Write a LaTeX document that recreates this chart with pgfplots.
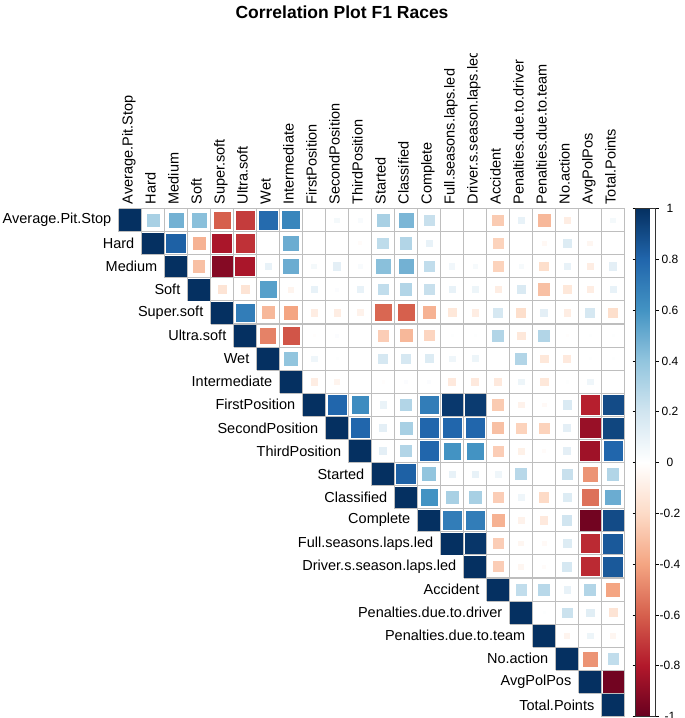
\documentclass[border=0pt]{standalone}
\usepackage{fontspec}
\setmainfont{Liberation Sans}
\usepackage{pgfplots}
\usepackage{pgfplotstable}
\pgfplotsset{compat=1.18}
\definecolor{gridc}{RGB}{190,190,190}

% upper triangle of the correlation matrix: column x, row y, value r
\pgfplotstableread[row sep=\\]{
x y r\\
0 0 1\\ 1 0 0.33\\ 2 0 0.48\\ 3 0 0.42\\ 4 0 -0.6\\ 5 0 -0.7\\ 6 0 0.78\\ 7 0 0.66\\ 8 0 0\\ 9 0 0.05\\ 10 0 0.03\\ 11 0 0.33\\ 12 0 0.46\\ 13 0 0.23\\ 14 0 0\\ 15 0 0\\ 16 0 -0.26\\ 17 0 0.1\\ 18 0 -0.33\\ 19 0 -0.1\\ 20 0 0\\ 21 0 0.05\\
1 1 1\\ 2 1 0.82\\ 3 1 -0.35\\ 4 1 -0.82\\ 5 1 -0.73\\ 6 1 0\\ 7 1 0.5\\ 8 1 0\\ 9 1 0\\ 10 1 -0.02\\ 11 1 0.26\\ 12 1 0.3\\ 13 1 0.1\\ 14 1 0\\ 15 1 0\\ 16 1 -0.23\\ 17 1 0\\ 18 1 -0.04\\ 19 1 0.15\\ 20 1 -0.05\\ 21 1 0\\
2 2 1\\ 3 2 -0.3\\ 4 2 -0.92\\ 5 2 -0.82\\ 6 2 0.1\\ 7 2 0.5\\ 8 2 0.05\\ 9 2 0.12\\ 10 2 0.03\\ 11 2 0.42\\ 12 2 0.48\\ 13 2 0.25\\ 14 2 0.06\\ 15 2 0.04\\ 16 2 -0.23\\ 17 2 0.04\\ 18 2 -0.18\\ 19 2 0.1\\ 20 2 -0.1\\ 21 2 0.12\\
3 3 1\\ 4 3 -0.15\\ 5 3 -0.15\\ 6 3 0.55\\ 7 3 -0.06\\ 8 3 0.1\\ 9 3 0.02\\ 10 3 0.1\\ 11 3 0.25\\ 12 3 0.3\\ 13 3 0.23\\ 14 3 0.1\\ 15 3 0.08\\ 16 3 -0.1\\ 17 3 0.16\\ 18 3 -0.3\\ 19 3 -0.13\\ 20 3 -0.1\\ 21 3 0.1\\
4 4 1\\ 5 4 0.7\\ 6 4 -0.33\\ 7 4 -0.4\\ 8 4 -0.1\\ 9 4 -0.1\\ 10 4 -0.07\\ 11 4 -0.58\\ 12 4 -0.6\\ 13 4 -0.35\\ 14 4 -0.13\\ 15 4 -0.1\\ 16 4 0.18\\ 17 4 -0.18\\ 18 4 0.12\\ 19 4 -0.1\\ 20 4 0.18\\ 21 4 -0.18\\
5 5 1\\ 6 5 -0.5\\ 7 5 -0.63\\ 8 5 -0.01\\ 9 5 0.02\\ 10 5 0\\ 11 5 -0.25\\ 12 5 -0.33\\ 13 5 -0.22\\ 14 5 0.01\\ 15 5 0.01\\ 16 5 0.3\\ 17 5 -0.13\\ 18 5 0.3\\ 19 5 -0.01\\ 20 5 0.01\\ 21 5 0.01\\
6 6 1\\ 7 6 0.4\\ 8 6 0.07\\ 9 6 0.01\\ 10 6 0\\ 11 6 0.18\\ 12 6 0.18\\ 13 6 0.15\\ 14 6 0.07\\ 15 6 0.08\\ 16 6 0\\ 17 6 0.3\\ 18 6 -0.13\\ 19 6 -0.12\\ 20 6 0.01\\ 21 6 0.01\\
7 7 1\\ 8 7 -0.1\\ 9 7 -0.06\\ 10 7 0\\ 11 7 -0.01\\ 12 7 0.02\\ 13 7 0.02\\ 14 7 -0.12\\ 15 7 -0.12\\ 16 7 -0.12\\ 17 7 0.08\\ 18 7 -0.13\\ 19 7 0.01\\ 20 7 0.07\\ 21 7 0\\
8 8 1\\ 9 8 0.8\\ 10 8 0.63\\ 11 8 0.09\\ 12 8 0.3\\ 13 8 0.7\\ 14 8 0.97\\ 15 8 0.96\\ 16 8 -0.26\\ 17 8 -0.07\\ 18 8 -0.03\\ 19 8 0.16\\ 20 8 -0.78\\ 21 8 0.9\\
9 9 1\\ 10 9 0.8\\ 11 9 0.12\\ 12 9 0.33\\ 13 9 0.8\\ 14 9 0.8\\ 15 9 0.8\\ 16 9 -0.3\\ 17 9 -0.23\\ 18 9 -0.23\\ 19 9 0.12\\ 20 9 -0.87\\ 21 9 0.92\\
10 10 1\\ 11 10 0.12\\ 12 10 0.3\\ 13 10 0.8\\ 14 10 0.6\\ 15 10 0.6\\ 16 10 -0.25\\ 17 10 -0.08\\ 18 10 -0.02\\ 19 10 0.12\\ 20 10 -0.85\\ 21 10 0.8\\
11 11 1\\ 12 11 0.82\\ 13 11 0.4\\ 14 11 0.1\\ 15 11 0.1\\ 16 11 0.07\\ 17 11 0.28\\ 18 11 0\\ 19 11 0.23\\ 20 11 -0.45\\ 21 11 0.3\\
12 12 1\\ 13 12 0.6\\ 14 12 0.33\\ 15 12 0.33\\ 16 12 -0.25\\ 17 12 0.07\\ 18 12 -0.2\\ 19 12 0.15\\ 20 12 -0.55\\ 21 12 0.5\\
13 13 1\\ 14 13 0.7\\ 15 13 0.7\\ 16 13 -0.35\\ 17 13 -0.07\\ 18 13 -0.12\\ 19 13 0.2\\ 20 13 -0.97\\ 21 13 0.9\\
14 14 1\\ 15 14 0.98\\ 16 14 -0.25\\ 17 14 -0.05\\ 18 14 -0.03\\ 19 14 0.15\\ 20 14 -0.75\\ 21 14 0.85\\
15 15 1\\ 16 15 -0.25\\ 17 15 -0.05\\ 18 15 -0.02\\ 19 15 0.18\\ 20 15 -0.75\\ 21 15 0.85\\
16 16 1\\ 17 16 0.25\\ 18 16 0.28\\ 19 16 0.1\\ 20 16 0.3\\ 21 16 -0.4\\
17 17 1\\ 18 17 0.01\\ 19 17 0.22\\ 20 17 0.13\\ 21 17 -0.15\\
18 18 1\\ 19 18 -0.06\\ 20 18 0.08\\ 21 18 -0.05\\
19 19 1\\ 20 19 -0.45\\ 21 19 0.25\\
20 20 1\\ 21 20 -0.97\\
21 21 1\\
}\corr

\begin{document}
\begin{tikzpicture}
\def\lbl{\fontsize{14.5}{16}\selectfont}
\def\names{Average.Pit.Stop,Hard,Medium,Soft,Super.soft,Ultra.soft,Wet,Intermediate,FirstPosition,SecondPosition,ThirdPosition,Started,Classified,Complete,Full.seasons.laps.led,Driver.s.season.laps.led,Accident,Penalties.due.to.driver,Penalties.due.to.team,No.action,AvgPolPos,Total.Points}

% staircase grid of the upper triangle
\foreach \k in {0,...,22}{
  \pgfmathsetmacro\xs{118.5+23*max(\k-1,0)}
  \draw[gridc, line width=1.1pt] (\xs pt,{-208.5pt-23.0909pt*\k}) -- (624.5pt,{-208.5pt-23.0909pt*\k});
}
\foreach \m in {0,...,22}{
  \pgfmathsetmacro\ye{-208.5-23.0909*min(\m+1,22)}
  \draw[gridc, line width=1.1pt] ({118.5pt+23pt*\m},-208.5pt) -- ({118.5pt+23pt*\m},\ye pt);
}

\begin{axis}[
  at={(118.5pt,-208.5pt)}, anchor=north west,
  scale only axis, width=506pt, height=508pt,
  xmin=-0.5, xmax=21.5, ymin=-0.5, ymax=21.5, y dir=reverse,
  enlargelimits=false,
  axis line style={draw=none}, xtick=\empty, ytick=\empty,
  colormap={rdbu}{rgb255=(103,0,31) rgb255=(178,24,43) rgb255=(214,96,77) rgb255=(244,165,130) rgb255=(253,219,199) rgb255=(255,255,255) rgb255=(209,229,240) rgb255=(146,197,222) rgb255=(67,147,195) rgb255=(33,102,172) rgb255=(5,48,97)},
  point meta min=-1, point meta max=1,
  colorbar,
  colorbar style={
    scale only axis,
    at={(parent axis.north east)}, anchor=north west, xshift=2.5pt,
    width=20pt, height=508pt,
    y dir=normal,
    ytick={-1,-0.8,-0.6,-0.4,-0.2,0,0.2,0.4,0.6,0.8,1},
    yticklabels={},
    yticklabel style={text opacity=0},
    tick align=outside, major tick length=3pt,
    tick style={draw=black, line width=0.5pt},
    axis line style={draw=black!80, line width=0.6pt},
  },
]
\addplot[scatter, only marks, mark=square*, scatter src=explicit,
  scatter/use mapped color={draw=mapped color, fill=mapped color},
  visualization depends on={10.4*sqrt(abs(\thisrow{r})) \as \msz},
  scatter/@pre marker code/.append style={/tikz/mark size=\msz pt},
] table[x=x, y=y, meta=r] {\corr};
\end{axis}

% colour key labels, centred right of the bar
\foreach \v/\t in {1/1,0.8/0.8,0.6/0.6,0.4/0.4,0.2/0.2,0/0,-0.2/-0.2,-0.4/-0.4,-0.6/-0.6,-0.8/-0.8,-1/-1}{
  \node[font=\fontsize{12}{14}\selectfont, inner sep=0pt] at (670pt,{-208.5pt-254pt*(1-\v)}) {\t};
}

% row labels
\foreach \n [count=\i from 0] in \names {
  \node[anchor=east, inner sep=0pt, font=\lbl] at ({118.5pt+23pt*\i-7pt},{-208.5pt-23.0909pt*(\i+0.5)}) {\n};
}
% column labels
\begin{scope}
\clip (0pt,-53pt) rectangle (685pt,-718pt);
\foreach \n [count=\i from 0] in \names {
  \node[anchor=mid west, rotate=90, inner sep=0pt, font=\lbl] at ({118.5pt+23pt*(\i+0.5)},-204.5pt) {\n};
}
\end{scope}

\node[font=\bfseries\fontsize{17.5}{20}\selectfont] at (342pt,-12pt) {Correlation Plot F1 Races};

\pgfresetboundingbox
\path[use as bounding box] (0pt,0pt) rectangle (685pt,-718pt);
\end{tikzpicture}
\end{document}
